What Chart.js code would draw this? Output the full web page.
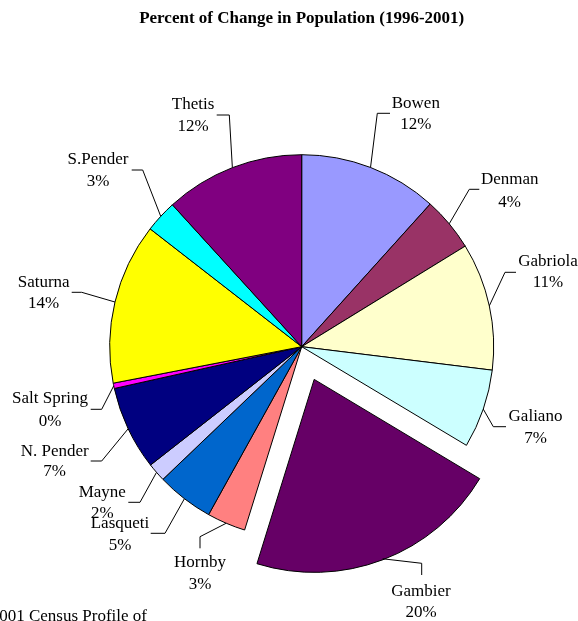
<!DOCTYPE html>
<html>
<head>
<meta charset="utf-8">
<script src="https://cdn.jsdelivr.net/npm/chart.js@4.4.1/dist/chart.umd.min.js"></script>
<style>
html,body{margin:0;padding:0;background:#fff;}
#wrap{position:relative;width:578px;height:621px;}
</style>
</head>
<body>
<div id="wrap"><canvas id="c" width="578" height="621"></canvas></div>
<script>
// ---- data ----
const categories = ["Bowen","Denman","Gabriola","Galiano","Gambier","Hornby","Lasqueti","Mayne","N. Pender","Salt Spring","Saturna","S.Pender","Thetis"];
const shares = [11.66, 4.55, 10.72, 6.63, 21.2, 3.25, 4.8, 1.57, 7.07, 0.45, 13.55, 2.72, 11.75];
const percentLabels = ["12%","4%","11%","7%","20%","3%","5%","2%","7%","0%","14%","3%","12%"];
const titleText = "Percent of Change in Population (1996-2001)";
const sourceText = "2001 Census Profile of";

// ---- styles ----
const colors = ["#9999FF","#993366","#FFFFCC","#CCFFFF","#660066","#FF8080","#0066CC","#CCCCFF","#000080","#FF00FF","#FFFF00","#00FFFF","#800080"];
const explodeIndex = 4;
const explodeDist = 35;
const FONT = '17px "Liberation Serif", "Times New Roman", serif';

// label layout: text centre x, name y, pct y, leader edge point, elbow point
const labelLayout = [
  {cx:415.8, ny:103.3, py:125,   edge:[390,113.3],   elbow:[377.3,113.3]},
  {cx:509.7, ny:180,   py:202.7, edge:[479.3,189.3], elbow:[469.3,189.3]},
  {cx:548,   ny:261.7, py:282.7, edge:[516,272.3],   elbow:[505,272.3]},
  {cx:535.5, ny:416.7, py:438.3, edge:[506,426.7],   elbow:[493.3,426.7]},
  {cx:421,   ny:591.7, py:612.7, edge:[421.7,575],   elbow:[421.7,563.3]},
  {cx:200,   ny:562.7, py:585,   edge:[200,548.3],   elbow:[200,536.7]},
  {cx:120,   ny:523.3, py:546,   edge:[150.7,533.3], elbow:[165,533.3]},
  {cx:102.3, ny:492.7, py:513.3, edge:[128.3,502.3], elbow:[140,502.3]},
  {cx:54.7,  ny:451.7, py:471.7, edge:[90.7,461],    elbow:[101.7,461]},
  {cx:50,    ny:398.3, py:421.7, edge:[90.7,409.3],  elbow:[101.7,409.3]},
  {cx:43.7,  ny:282.7, py:303.3, edge:[71.7,292.3],  elbow:[81.7,292.3]},
  {cx:98,    ny:160,   py:181.7, edge:[131.7,170],   elbow:[142.7,170]},
  {cx:193,   ny:105,   py:126.7, edge:[216.7,115],   elbow:[229.3,115]}
];

const labelPlugin = {
  id: 'labels',
  afterDraw(chart) {
    const ctx = chart.ctx;
    const meta = chart.getDatasetMeta(0);
    ctx.save();
    ctx.fillStyle = '#000';
    ctx.strokeStyle = '#000';
    ctx.lineWidth = 1;
    // title
    ctx.font = 'bold ' + FONT;
    ctx.textAlign = 'center';
    ctx.textBaseline = 'middle';
    ctx.fillText(titleText, 301.7, 18.5);
    // source
    ctx.font = FONT;
    ctx.textAlign = 'right';
    ctx.textBaseline = 'alphabetic';
    ctx.fillText(sourceText, 147, 621);
    // labels and leaders
    meta.data.forEach((arc, i) => {
      const L = labelLayout[i];
      const mid = (arc.startAngle + arc.endAngle) / 2;
      const off = i === explodeIndex ? explodeDist : 0;
      const r = arc.outerRadius + off;
      const ax = arc.x + Math.cos(mid) * r;
      const ay = arc.y + Math.sin(mid) * r;
      ctx.beginPath();
      ctx.moveTo(L.edge[0], L.edge[1]);
      ctx.lineTo(L.elbow[0], L.elbow[1]);
      ctx.lineTo(ax, ay);
      ctx.stroke();
      ctx.font = FONT;
      ctx.textAlign = 'center';
      ctx.textBaseline = 'middle';
      ctx.fillText(categories[i], L.cx, L.ny);
      ctx.fillText(percentLabels[i], L.cx, L.py);
    });
    ctx.restore();
  }
};

new Chart(document.getElementById('c'), {
  type: 'pie',
  data: {
    labels: categories,
    datasets: [{
      data: shares,
      backgroundColor: colors,
      borderColor: '#000',
      borderWidth: 1,
      offset: categories.map((c, i) => i === explodeIndex ? explodeDist * 4 : 0),
      hoverOffset: 0
    }]
  },
  options: {
    responsive: false,
    animation: false,
    events: [],
    radius: 192,
    layout: { padding: { left: 30, right: 4.6, top: 80, bottom: 7.6 } },
    plugins: { legend: { display: false }, title: { display: false }, tooltip: { enabled: false } }
  },
  plugins: [labelPlugin]
});
</script>
</body>
</html>
